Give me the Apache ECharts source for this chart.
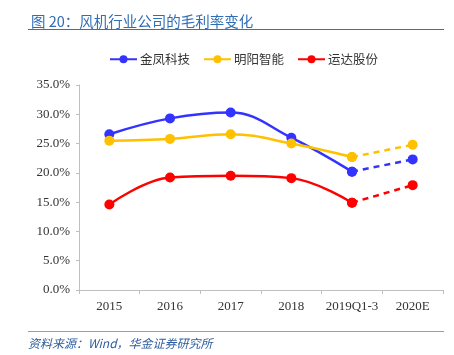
<!DOCTYPE html>
<html>
<head>
<meta charset="utf-8">
<script src="https://cdn.jsdelivr.net/npm/echarts@6/dist/echarts.min.js"></script>
<style>
html,body{margin:0;padding:0;background:#fff;}
#chart{width:454px;height:355px;}
</style>
</head>
<body>
<div id="chart"></div>
<script>
var categories = ['2015', '2016', '2017', '2018', '2019Q1-3', '2020E'];
var seriesNames = ['金凤科技', '明阳智能', '运达股份'];
var goldwind = [26.6, 29.3, 30.3, 26.0, 20.2, 22.3];
var mingyang = [25.5, 25.8, 26.6, 25.0, 22.7, 24.8];
var windey = [14.6, 19.2, 19.5, 19.1, 14.9, 17.9];
var colors = ['#3333FF', '#FFC000', '#FF0000'];
var titleText = '图 20：风机行业公司的毛利率变化';
var sourceText = '资料来源：Wind，华金证券研究所';

var values = [goldwind, mingyang, windey];
var actualCount = 5; // solid through 2019Q1-3, dashed to 2020E

var series = [];
values.forEach(function (vals, i) {
  var solid = vals.map(function (v, j) { return j < actualCount ? v : null; });
  var dashed = vals.map(function (v, j) { return j >= actualCount - 1 ? v : null; });
  series.push({
    name: seriesNames[i], type: 'line', data: solid, smooth: 0.4,
    symbol: 'circle', symbolSize: 10, z: 3 + i,
    lineStyle: { color: colors[i], width: 2.5 },
    itemStyle: { color: colors[i] }
  });
  series.push({
    name: seriesNames[i], type: 'line', data: dashed, smooth: false,
    symbol: 'circle', symbolSize: 10, z: 3 + i,
    lineStyle: { color: colors[i], width: 2.5, type: [6, 5] },
    itemStyle: { color: colors[i] }
  });
});

var chart = echarts.init(document.getElementById('chart'));
chart.setOption({
  animation: false,
  backgroundColor: '#fff',
  title: {
    text: titleText, left: 26, top: 9,
    textStyle: { color: '#2F6DB5', fontSize: 14.5, fontWeight: 'normal', fontFamily: 'Noto Sans CJK SC' }
  },
  graphic: [
    { type: 'line', shape: { x1: 28, y1: 29.5, x2: 444, y2: 29.5 }, style: { stroke: '#2E75B6', lineWidth: 1 } },
    { type: 'line', shape: { x1: 28, y1: 331.5, x2: 444, y2: 331.5 }, style: { stroke: '#6FA8DC', lineWidth: 1 } },
    { type: 'text', left: 28, top: 337, style: { text: sourceText, fill: '#2E5E9E', font: 'italic 12px "Noto Sans CJK SC"' } }
  ],
  legend: {
    data: seriesNames, left: 104, top: 48, itemGap: 13,
    itemWidth: 27, itemHeight: 10,
    textStyle: { color: '#333', fontSize: 12.5, fontFamily: 'Noto Sans CJK SC', padding: [0, 0, 0, -2] }
  },
  grid: { left: 79, right: 11, top: 85, bottom: 65, containLabel: false },
  xAxis: {
    type: 'category', data: categories, boundaryGap: true,
    axisLine: { lineStyle: { color: '#BFBFBF' } },
    axisTick: { show: true, length: 4, lineStyle: { color: '#BFBFBF' } },
    axisLabel: { color: '#333', fontSize: 13, fontFamily: 'Liberation Serif', margin: 10, interval: 0 }
  },
  yAxis: {
    type: 'value', min: 0, max: 35, interval: 5,
    axisLine: { show: true, lineStyle: { color: '#BFBFBF' } },
    axisTick: { show: true, length: 3, lineStyle: { color: '#BFBFBF' } },
    splitLine: { show: false },
    axisLabel: {
      color: '#333', fontSize: 13, fontFamily: 'Liberation Serif', margin: 9,
      formatter: function (v) { return v.toFixed(1) + '%'; }
    }
  },
  series: series
});
</script>
</body>
</html>
